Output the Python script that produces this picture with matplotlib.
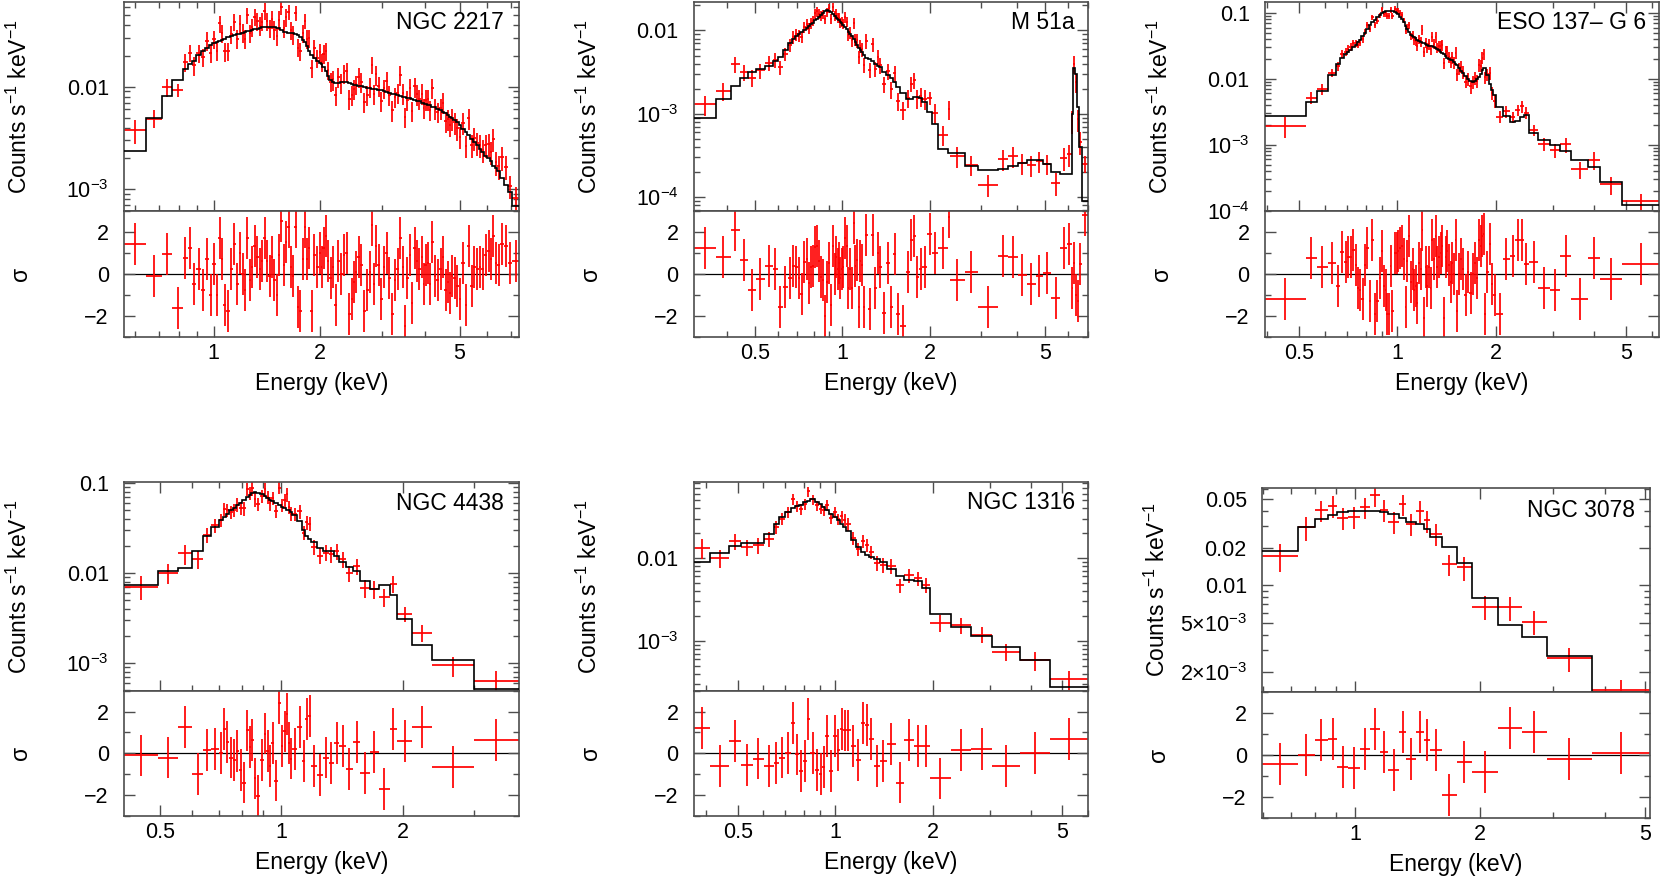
import numpy as np
import matplotlib
matplotlib.use('Agg')
import matplotlib.pyplot as plt
from matplotlib.ticker import FixedLocator, FixedFormatter, LogLocator, NullFormatter, MultipleLocator

plt.rcParams['font.family'] = ['Liberation Sans', 'DejaVu Sans']
plt.rcParams['mathtext.fontset'] = 'custom'
plt.rcParams['mathtext.rm'] = 'Liberation Sans'
plt.rcParams['mathtext.it'] = 'Liberation Sans:italic'
plt.rcParams['mathtext.bf'] = 'Liberation Sans:bold'

# each spectrum: bin edges (keV), model per bin (counts/s/keV),
# residual in sigma, and 1-sigma error as a fraction of the data.
# data = model / (1 - resid * frac)  since resid = (data - model) / (frac * data)

# ---------------- NGC 2217 ----------------
ngc2217_edges = [0.557, 0.644, 0.716, 0.764, 0.820,
    0.845, 0.867, 0.893, 0.922, 0.948, 0.970, 0.993, 1.013, 1.031, 1.049,
    1.065, 1.088, 1.114, 1.133, 1.156, 1.179, 1.200, 1.220, 1.237, 1.258,
    1.280, 1.298, 1.318, 1.343, 1.367, 1.386, 1.407, 1.432, 1.456, 1.478,
    1.501, 1.522, 1.544, 1.571, 1.595, 1.619, 1.648, 1.671, 1.697, 1.727,
    1.751, 1.778, 1.803, 1.825, 1.853, 1.883, 1.916, 1.953, 1.987, 2.015,
    2.039, 2.068, 2.100, 2.132, 2.167, 2.205, 2.245, 2.284, 2.325, 2.366,
    2.410, 2.453, 2.488, 2.523, 2.562, 2.601, 2.653, 2.710, 2.758, 2.797,
    2.830, 2.870, 2.920, 2.972, 3.025, 3.078, 3.133, 3.188, 3.245, 3.302,
    3.361, 3.420, 3.473, 3.526, 3.584, 3.639, 3.695, 3.756, 3.813, 3.872,
    3.927, 3.973, 4.029, 4.091, 4.153, 4.222, 4.297, 4.378, 4.456, 4.529,
    4.599, 4.669, 4.735, 4.802, 4.887, 4.974, 5.061, 5.169, 5.261, 5.354,
    5.462, 5.558, 5.663, 5.763, 5.879, 5.997, 6.089, 6.183, 6.285, 6.396,
    6.532, 6.687, 6.845, 7.048, 7.377]
ngc2217_model = [0.00234, 0.0050, 0.0081, 0.0116,
    0.0149, 0.0165, 0.0178, 0.0205, 0.0225, 0.024, 0.0255, 0.0265, 0.0272, 0.028,
    0.0287, 0.0292, 0.0302, 0.031, 0.0316, 0.0325, 0.033, 0.0337, 0.0342, 0.0347,
    0.0353, 0.0358, 0.0362, 0.0368, 0.0376, 0.038, 0.0382, 0.0384, 0.0384, 0.0383,
    0.038, 0.0375, 0.037, 0.036, 0.0345, 0.034, 0.0335, 0.0333, 0.0333, 0.033,
    0.0318, 0.0305, 0.0285, 0.0275, 0.025, 0.0225, 0.0205, 0.0192, 0.018, 0.0172,
    0.0165, 0.0157, 0.0143, 0.0128, 0.0116, 0.011, 0.0108, 0.0109, 0.011, 0.011,
    0.011, 0.0108, 0.0106, 0.0104, 0.0103, 0.0102, 0.0101, 0.0099, 0.0098, 0.0097,
    0.0096, 0.0095, 0.0094, 0.0093, 0.0092, 0.009, 0.0089, 0.0087, 0.0085, 0.0084,
    0.0083, 0.0081, 0.008, 0.0079, 0.0078, 0.0077, 0.0076, 0.0074, 0.0073, 0.0072,
    0.007, 0.0069, 0.0068, 0.0067, 0.0066, 0.0064, 0.0063, 0.0061, 0.0059, 0.0057,
    0.0055, 0.0053, 0.0051, 0.005, 0.0047, 0.0045, 0.0042, 0.0039, 0.0036, 0.0034,
    0.0031, 0.0029, 0.0027, 0.0025, 0.0023, 0.0021, 0.002, 0.0019, 0.0017, 0.0016,
    0.0015, 0.0013, 0.0011, 0.00094, 0.00069]
ngc2217_resid = [1.4, -0.1, 0.95, -1.65,
    0.75, 1.2, -0.5, 0.2, -0.8, 0.7, -1.0, 0.45, -1.0, 1.7,
    0.7, -1.5, -1.8, 0.2, 1.4, -0.5, 1.0, 0.0, -0.8, 1.7,
    -0.3, 0.3, 1.3, 0.8, 0.2, 0.6, 1.7, 0.6, -0.1, 0.8,
    -0.3, -1.0, 0.9, 2.5, 0.4, 1.5, 2.2, 0.3, -0.1, 2.2,
    -1.6, -1.8, 0.7, 2.2, 0.7, 1.2, -1.8, 0.9, 0.3, 1.0,
    0.3, 1.2, 1.8, 0.6, -0.2, 0.3, -1.5, 0.6, 0.0, 0.9,
    1.0, -1.9, -1.2, -0.4, 0.1, 0.8, 0.4, -1.8, -0.8, 0.1,
    2.3, -0.5, 1.3, 0.4, -1.2, 0.3, 1.0, -0.2, -1.9, -0.3,
    0.2, 1.7, 0.3, -2.5, -0.2, 0.9, -1.4, 1.2, 0.6, 0.2,
    0.8, -0.5, 0.4, 0.5, -0.5, 1.5, -0.1, -0.3, 0.2, 0.8,
    -0.8, -0.4, -0.9, -0.1, -0.2, -0.6, -1.2, 0.5, -1.5, 1.3,
    -0.6, 0.3, 0.2, 0.3, 0.2, 0.9, 1.1, 0.7, 1.8, 0.5,
    0.4, 1.4, 1.3, 0.5, 0.6]
ngc2217_frac = [0.27, 0.2, 0.2, 0.15,
    0.2, 0.19, 0.21, 0.2, 0.2, 0.21, 0.2, 0.2, 0.21, 0.19,
    0.2, 0.21, 0.2, 0.2, 0.19, 0.21, 0.2, 0.2, 0.21, 0.18,
    0.2, 0.2, 0.19, 0.2, 0.21, 0.2, 0.18, 0.2, 0.2, 0.2,
    0.21, 0.2, 0.2, 0.16, 0.2, 0.19, 0.17, 0.2, 0.21, 0.17,
    0.2, 0.2, 0.2, 0.17, 0.21, 0.2, 0.2, 0.21, 0.2, 0.21,
    0.2, 0.21, 0.2, 0.2, 0.21, 0.22, 0.21, 0.22, 0.22, 0.21,
    0.22, 0.22, 0.22, 0.22, 0.21, 0.22, 0.22, 0.22, 0.22, 0.22,
    0.18, 0.22, 0.22, 0.22, 0.22, 0.22, 0.22, 0.22, 0.23, 0.22,
    0.22, 0.22, 0.23, 0.22, 0.22, 0.23, 0.22, 0.22, 0.23, 0.22,
    0.23, 0.22, 0.23, 0.23, 0.22, 0.23, 0.23, 0.23, 0.23, 0.23,
    0.23, 0.24, 0.23, 0.24, 0.24, 0.24, 0.24, 0.24, 0.24, 0.24,
    0.25, 0.25, 0.25, 0.25, 0.25, 0.25, 0.25, 0.25, 0.25, 0.26,
    0.26, 0.26, 0.26, 0.26, 0.27]

# ---------------- M 51a ----------------
m51a_edges = [0.3088, 0.3686, 0.4129, 0.4434, 0.4737, 0.5060, 0.5405, 0.5774, 0.6007, 0.6250,
    0.6502, 0.6694, 0.6892, 0.7020, 0.7170, 0.7342, 0.7479, 0.7599, 0.7741, 0.7864,
    0.7989, 0.8139, 0.8269, 0.8400, 0.8535, 0.8671, 0.8810, 0.8950, 0.9069, 0.9214,
    0.9361, 0.9486, 0.9587, 0.9688, 0.9791, 0.9895, 1.0, 1.016, 1.0295, 1.0432,
    1.0542, 1.0682, 1.0853, 1.1026, 1.1173, 1.1321, 1.1472, 1.1594, 1.1748, 1.1967,
    1.2254, 1.2583, 1.2885, 1.3126, 1.3371, 1.3692, 1.4133, 1.4549, 1.4939, 1.5339,
    1.5833, 1.6515, 1.7047, 1.7503, 1.7876, 1.8355, 1.8846, 1.9555, 2.04, 2.1337,
    2.3097, 2.3528, 2.6356, 2.9292, 3.4322, 3.7151, 4.0214, 4.3184, 4.6257, 4.9023,
    5.2363, 5.6234, 5.9282, 6.1513, 6.234, 6.316, 6.400, 6.503, 6.677, 7.002]
m51a_model = [8.8e-4, 1.52e-3, 2.14e-3, 2.7e-3, 3.2e-3, 3.48e-3, 3.8e-3, 4.3e-3, 4.8e-3, 5.8e-3,
    7.0e-3, 7.9e-3, 8.5e-3, 9.0e-3, 9.6e-3, 0.0102, 0.0107, 0.0113, 0.0118, 0.0124,
    0.0132, 0.0139, 0.0146, 0.0154, 0.0162, 0.0171, 0.0175, 0.0172, 0.0165, 0.0157,
    0.015, 0.0143, 0.0138, 0.0133, 0.0128, 0.0123, 0.0117, 0.011, 0.0103, 0.0097,
    0.0091, 0.0085, 0.0079, 0.0073, 0.0067, 0.0062, 0.0058, 0.0055, 0.0051, 0.0047,
    0.0045, 0.0043, 0.004, 0.0038, 0.0036, 0.0032, 0.0029, 0.0027, 0.0024, 0.0021,
    0.0018, 0.00152, 0.00152, 0.00158, 0.0016, 0.00155, 0.0014, 0.00105, 0.00075, 0.00038,
    0.00034, 0.00034, 0.00024, 0.00021, 0.00022, 0.00024, 0.00026, 0.00028, 0.00028, 0.00025,
    0.0002, 0.00019, 0.00019, 0.001, 0.0035, 0.003, 0.0012, 0.0004, 9e-5]
m51a_resid = [1.2, 0.8, 2.1, 0.65, -0.8, -0.25, 0.35, 0.2, -1.6, -0.65,
    -0.2, 0.35, 0.3, -0.2, -0.95, 0.55, 0.7, -0.45, 0.3, 0.35,
    1.25, 1.3, 0.6, -0.15, -0.3, -2.0, -0.4, 0.5, -1.5, 1.3,
    0.0, 0.8, 0.2, 0.5, -0.2, 0.2, 0.3, 1.7, 1.3, -0.7,
    0.2, -0.7, 2.4, 0.35, 0.65, -1.6, 0.6, 0.4, -1.6, 1.85,
    -1.7, 1.85, -0.7, 1.0, 0.3, -1.85, 0.5, -1.6, 0.95, -1.9,
    -2.5, 0.1, 1.6, 1.8, -0.15, 0.2, 0.3, 1.9, 1.0, 1.2,
    2.7, -0.3, 0.1, -1.6, 0.85, 0.8, -0.05, -0.5, -0.1, 0.05,
    -1.15, 1.2, 1.4, -0.7, 0.5, -1.0, -1.3, 0.45, 2.8]
m51a_frac = [0.27, 0.25, 0.22, 0.22, 0.22, 0.2, 0.2, 0.2, 0.2, 0.18,
    0.18, 0.17, 0.17, 0.16, 0.16, 0.15, 0.15, 0.15, 0.15, 0.14,
    0.14, 0.14, 0.14, 0.13, 0.13, 0.13, 0.13, 0.13, 0.13, 0.13,
    0.13, 0.13, 0.13, 0.13, 0.14, 0.14, 0.14, 0.14, 0.15, 0.15,
    0.16, 0.16, 0.15, 0.17, 0.18, 0.18, 0.19, 0.19, 0.2, 0.2,
    0.2, 0.2, 0.21, 0.21, 0.22, 0.22, 0.22, 0.23, 0.23, 0.24,
    0.24, 0.25, 0.21, 0.21, 0.25, 0.25, 0.26, 0.17, 0.27, 0.27,
    0.26, 0.28, 0.28, 0.3, 0.28, 0.28, 0.28, 0.28, 0.28, 0.28,
    0.3, 0.3, 0.3, 0.3, 0.25, 0.25, 0.3, 0.3, 0.23]

# ---------------- ESO 137-G 6 ----------------
eso137_edges = [0.3946, 0.5251, 0.5673, 0.6129, 0.6484,
    0.6684, 0.6882, 0.7029, 0.7145, 0.7272, 0.7409, 0.7540, 0.7647, 0.7765, 0.7902,
    0.8033, 0.8176, 0.8320, 0.8468, 0.8618, 0.8771, 0.8937, 0.9074, 0.9170, 0.9267,
    0.9376, 0.9487, 0.9598, 0.9745, 0.9895, 1.0012, 1.0142, 1.0285, 1.0418, 1.0541,
    1.0665, 1.0804, 1.0957, 1.1086, 1.1190, 1.1309, 1.1442, 1.1590, 1.1741, 1.1879,
    1.2004, 1.2131, 1.2275, 1.2420, 1.2566, 1.2714, 1.2863, 1.3015, 1.3168, 1.3323,
    1.3481, 1.3640, 1.3800, 1.3963, 1.4127, 1.4294, 1.4462, 1.4632, 1.4805, 1.4979,
    1.5156, 1.5352, 1.5587, 1.5807, 1.6032, 1.6316, 1.6624, 1.6920, 1.7200, 1.7463,
    1.7690, 1.7898, 1.8109, 1.8300, 1.8473, 1.8713, 1.9022, 1.9337, 1.9680, 2.0098,
    2.1062, 2.2071, 2.2969, 2.3679, 2.4353, 2.5284, 2.6934, 2.9236, 3.1511, 3.4044,
    3.8276, 4.1739, 4.8716, 6.3037]
eso137_model = [0.00277, 0.0044, 0.0066, 0.0115, 0.017,
    0.0205, 0.024, 0.0255, 0.0275, 0.030, 0.033, 0.036, 0.039, 0.045, 0.050,
    0.057, 0.065, 0.072, 0.079, 0.086, 0.094, 0.101, 0.104, 0.106, 0.108,
    0.108, 0.108, 0.107, 0.103, 0.099, 0.095, 0.088, 0.081, 0.072, 0.063,
    0.057, 0.051, 0.047, 0.045, 0.043, 0.041, 0.039, 0.037, 0.036, 0.0355,
    0.035, 0.034, 0.033, 0.032, 0.0315, 0.031, 0.030, 0.029, 0.028, 0.027,
    0.026, 0.025, 0.024, 0.0225, 0.021, 0.020, 0.0195, 0.019, 0.0178, 0.017,
    0.016, 0.0145, 0.0132, 0.0122, 0.011, 0.0099, 0.0092, 0.009, 0.0093, 0.0098,
    0.0105, 0.0118, 0.0135, 0.0148, 0.0145, 0.0115, 0.0085, 0.0068, 0.0056,
    0.0037, 0.00277, 0.0022, 0.0023, 0.0026, 0.0028, 0.0015, 0.0012, 0.001, 0.0008,
    0.00058, 0.00046, 0.00027, 0.00012]
eso137_resid = [-1.2, 0.75, 0.3, 0.5, -0.6,
    1.05, 0.55, 0.8, 0.8, 1.15, 0.4, -0.7, -0.8, -1.2, 0.4,
    1.2, -1.3, 1.6, -1.9, -1.3, -0.2, 1.1, -0.6, -0.8, -1.9,
    -1.9, 0.35, -1.8, 1.0, 1.0, 1.1, 1.2, 1.3, 0.7, -1.6,
    0.6, 1.8, -0.4, 0.2, -0.8, -0.6, -1.4, 0.5, 0.2, 2.1,
    -2.1, 0.3, -0.6, 0.3, -0.7, 1.6, 0.7, 1.8, 0.3, 0.8,
    1.0, 1.3, -2.1, 0.8, 1.1, 0.4, -0.4, 0.5, 0.0, 1.6,
    -1.8, 0.0, 0.7, 0.2, -1.0, 0.1, -0.9, 0.0, 0.5, -0.2,
    1.6, 1.3, 1.8, 1.9, -1.9, 0.1, 1.4, -0.5, -1.0,
    -1.9, 0.7, 0.85, 1.6, 1.6, 0.45, 0.55, -0.7, -0.8, 0.85,
    -1.2, 0.75, -0.25, 0.45]
eso137_frac = [0.35, 0.2, 0.2, 0.15, 0.15,
    0.14, 0.13, 0.13, 0.13, 0.12, 0.12, 0.12, 0.12, 0.11, 0.11,
    0.11, 0.11, 0.1, 0.1, 0.1, 0.1, 0.1, 0.1, 0.1, 0.1,
    0.1, 0.1, 0.1, 0.1, 0.1, 0.1, 0.1, 0.1, 0.1, 0.11,
    0.12, 0.12, 0.13, 0.14, 0.15, 0.15, 0.16, 0.16, 0.17, 0.17,
    0.17, 0.18, 0.18, 0.18, 0.18, 0.18, 0.18, 0.18, 0.18, 0.18,
    0.18, 0.18, 0.18, 0.19, 0.19, 0.19, 0.2, 0.2, 0.2, 0.2,
    0.2, 0.2, 0.2, 0.21, 0.21, 0.22, 0.22, 0.22, 0.22, 0.22,
    0.22, 0.2, 0.2, 0.2, 0.2, 0.22, 0.22, 0.22, 0.22,
    0.2, 0.2, 0.2, 0.2, 0.2, 0.2, 0.2, 0.22, 0.25, 0.25,
    0.3, 0.3, 0.3, 0.3]

# ---------------- NGC 4438 ----------------
ngc4438_edges = [0.4080, 0.4951, 0.5561, 0.5996, 0.6413, 0.6707, 0.6987, 0.7174, 0.7277, 0.7396,
    0.7580, 0.7704, 0.7863, 0.7993, 0.8156, 0.8290, 0.8393, 0.8531, 0.8671, 0.8849,
    0.9031, 0.9161, 0.9312, 0.9445, 0.9600, 0.9798, 0.9959, 1.0102, 1.0248, 1.0352,
    1.0501, 1.0630, 1.0938, 1.1231, 1.1463, 1.1651, 1.1819, 1.2260, 1.2692, 1.3086,
    1.3492, 1.3911, 1.4431, 1.5031, 1.5656, 1.6542, 1.7408, 1.8504, 1.9354, 2.0995,
    2.3630, 2.9868, 3.8692]
ngc4438_model = [0.0073, 0.0106, 0.0114, 0.0176, 0.026, 0.033, 0.039, 0.042, 0.046, 0.05,
    0.053, 0.057, 0.06, 0.065, 0.07, 0.074, 0.078, 0.08, 0.079, 0.076,
    0.072, 0.069, 0.066, 0.063, 0.06, 0.057, 0.054, 0.053, 0.051, 0.05,
    0.048, 0.044, 0.038, 0.03, 0.026, 0.024, 0.022, 0.019, 0.0176, 0.0176,
    0.0157, 0.0132, 0.0116, 0.0106, 0.0082, 0.0066, 0.0074, 0.0057, 0.0031, 0.00157,
    0.00109, 0.000516]
ngc4438_resid = [-0.1, -0.2, 1.25, -1.0, 0.15, 0.2, 0.0, 1.15, 0.55, -0.2,
    -0.3, 0.1, -0.8, -1.4, 1.1, 0.3, 0.65, -1.2, -2.05, -0.3,
    0.95, 0.1, -0.6, 0.5, -1.3, 2.4, 0.35, 1.05, 1.9, 0.5,
    -0.25, 0.2, 1.25, -0.35, 1.65, 1.8, -0.6, -1.05, -0.2, -0.45,
    0.5, 0.35, -0.75, 0.55, -0.95, 0.05, -1.7, 1.15, 0.6, 1.25,
    -0.65, 0.65]
ngc4438_frac = [0.3, 0.25, 0.25, 0.22, 0.2, 0.18, 0.17, 0.17, 0.17, 0.17,
    0.17, 0.17, 0.17, 0.17, 0.17, 0.17, 0.17, 0.17, 0.17, 0.17,
    0.17, 0.17, 0.17, 0.17, 0.17, 0.15, 0.17, 0.17, 0.17, 0.17,
    0.17, 0.17, 0.18, 0.18, 0.18, 0.18, 0.19, 0.2, 0.2, 0.2,
    0.2, 0.2, 0.21, 0.21, 0.22, 0.22, 0.22, 0.22, 0.2, 0.22,
    0.25, 0.28]

# ---------------- NGC 1316 ----------------
ngc1316_edges = [0.3666, 0.4117, 0.4700, 0.5131, 0.5574, 0.6012, 0.6455, 0.6704, 0.6996, 0.7300,
    0.7510, 0.7745, 0.7949, 0.8159, 0.8374, 0.8676, 0.8926, 0.9097, 0.9315, 0.9560,
    0.9836, 1.0095, 1.0337, 1.0584, 1.0812, 1.1150, 1.1553, 1.1971, 1.2344, 1.2730,
    1.3127, 1.3699, 1.4431, 1.5347, 1.6282, 1.7439, 1.8503, 1.9537, 2.2785, 2.6262,
    3.0483, 3.7188, 4.5803, 6.0121]
ngc1316_model = [0.0089, 0.0115, 0.0138, 0.0152, 0.0152, 0.0193, 0.026, 0.031, 0.036, 0.040,
    0.043, 0.044, 0.047, 0.049, 0.051, 0.048, 0.045, 0.041, 0.038, 0.034,
    0.031, 0.029, 0.026, 0.024, 0.021, 0.0165, 0.0135, 0.012, 0.011, 0.0104,
    0.0098, 0.0089, 0.0074, 0.006, 0.0054, 0.0053, 0.0044, 0.0021, 0.00149, 0.00114,
    0.00085, 0.00058, 0.00028]
ngc1316_resid = [1.2, -0.6, 0.6, -0.55, -0.25, -0.6, -0.45, -0.2, 0.0, 1.45,
    -0.05, -0.85, -0.35, 1.65, 0.0, -0.8, -1.0, -0.65, 0.85, -0.85,
    0.85, 0.15, 1.15, 1.1, 1.1, 0.35, -0.3, 1.45, 1.35, 0.7,
    -0.6, -0.35, 0.45, -1.4, 0.65, 0.35, 0.35, -1.2, 0.15, 0.2,
    -0.6, 0.0, 0.7]
ngc1316_frac = [0.28, 0.25, 0.22, 0.22, 0.22, 0.2, 0.18, 0.17, 0.16, 0.15,
    0.15, 0.15, 0.15, 0.14, 0.14, 0.14, 0.14, 0.14, 0.15, 0.15,
    0.15, 0.15, 0.16, 0.16, 0.17, 0.17, 0.18, 0.18, 0.18, 0.18,
    0.2, 0.2, 0.2, 0.2, 0.2, 0.2, 0.2, 0.22, 0.22, 0.22,
    0.24, 0.26, 0.26]

# ---------------- NGC 3078 ----------------
ngc3078_edges = [0.5962, 0.7283, 0.7991, 0.8606, 0.9047, 0.9618, 1.0263, 1.0850, 1.1513, 1.2014,
    1.2772, 1.3304, 1.4065, 1.4651, 1.5148, 1.6164, 1.7635, 1.9098, 2.2152, 2.5221,
    2.9090, 3.7225, 5.1497]
ngc3078_model = [0.019, 0.0292, 0.0345, 0.037, 0.0386, 0.0395, 0.0398, 0.0398, 0.0391, 0.0372,
    0.035, 0.0324, 0.0309, 0.0286, 0.0245, 0.0203, 0.015, 0.0079, 0.00475, 0.00386,
    0.00269, 0.00139]
ngc3078_resid = [-0.45, 0.0, 0.7, 0.75, -0.55, -0.6, 0.3, 1.25, 0.15, -0.7,
    1.1, -0.2, 1.1, 0.7, 0.25, -1.9, -0.35, -0.8, 1.3, 1.1,
    -0.2, 0.1]
ngc3078_frac = [0.25, 0.22, 0.2, 0.2, 0.2, 0.2, 0.2, 0.2, 0.2, 0.2,
    0.2, 0.2, 0.2, 0.2, 0.2, 0.2, 0.22, 0.22, 0.22, 0.22,
    0.22, 0.22]

names = ['NGC 2217', 'M 51a', 'ESO 137\u2013 G 6', 'NGC 4438', 'NGC 1316', 'NGC 3078']
xlims = [(0.557, 7.377), (0.3088, 7.002), (0.3946, 6.3037),
         (0.408, 3.8692), (0.3666, 6.0121), (0.5962, 5.1497)]
ylims = [(6.2e-4, 0.067), (6.9e-5, 0.022), (1e-4, 0.147),
         (4.9e-4, 0.1035), (2.5e-4, 0.083), (1.38e-3, 0.0607)]
xticks = [[1, 2, 5], [0.5, 1, 2, 5], [0.5, 1, 2, 5], [0.5, 1, 2], [0.5, 1, 2, 5], [1, 2, 5]]
xticklabels = [['1', '2', '5'], ['0.5', '1', '2', '5'], ['0.5', '1', '2', '5'],
               ['0.5', '1', '2'], ['0.5', '1', '2', '5'], ['1', '2', '5']]
yticks = [[0.01, 1e-3], [0.01, 1e-3, 1e-4], [0.1, 0.01, 1e-3, 1e-4],
          [0.1, 0.01, 1e-3], [0.01, 1e-3], [0.05, 0.02, 0.01, 5e-3, 2e-3]]
yticklabels = [['0.01', '10$^{-3}$'], ['0.01', '10$^{-3}$', '10$^{-4}$'],
               ['0.1', '0.01', '10$^{-3}$', '10$^{-4}$'], ['0.1', '0.01', '10$^{-3}$'],
               ['0.01', '10$^{-3}$'],
               ['0.05', '0.02', '0.01', '5\u00d710$^{-3}$', '2\u00d710$^{-3}$']]

spectra = [
    (ngc2217_edges, ngc2217_model, ngc2217_resid, ngc2217_frac),
    (m51a_edges, m51a_model, m51a_resid, m51a_frac),
    (eso137_edges, eso137_model, eso137_resid, eso137_frac),
    (ngc4438_edges, ngc4438_model, ngc4438_resid, ngc4438_frac),
    (ngc1316_edges, ngc1316_model, ngc1316_resid, ngc1316_frac),
    (ngc3078_edges, ngc3078_model, ngc3078_resid, ngc3078_frac),
]

# layout in figure fractions: [left, width, spec_bottom, spec_h, res_bottom, res_h]
layout = [
    [0.0747, 0.2378, 0.7606, 0.2372, 0.6174, 0.1432],
    [0.4178, 0.2372, 0.7606, 0.2372, 0.6174, 0.1432],
    [0.7616, 0.2372, 0.7606, 0.2372, 0.6174, 0.1432],
    [0.0747, 0.2378, 0.2151, 0.2372, 0.0727, 0.1424],
    [0.4178, 0.2372, 0.2151, 0.2372, 0.0727, 0.1424],
    [0.7598, 0.2336, 0.2136, 0.2318, 0.0705, 0.1432],
]
name_pos = [(0.962, 0.9), (0.967, 0.9), (0.967, 0.9), (0.962, 0.895), (0.967, 0.904), (0.961, 0.892)]

W, H = 1661, 880
fig = plt.figure(figsize=(W / 100, H / 100), dpi=100)

frame_col = '0.3'
red = '#ff0000'


def style(ax):
    for s in ax.spines.values():
        s.set_color(frame_col)
        s.set_linewidth(1.2)
    ax.tick_params(which='both', direction='in', colors=frame_col, labelcolor='black',
                   labelsize=15.5, width=1.0)
    ax.tick_params(which='major', length=8)
    ax.tick_params(which='minor', length=4.5)
    ax.tick_params(axis='x', pad=4.5)
    ax.tick_params(axis='y', pad=11)


for i in range(6):
    edges, model, resid, frac = [np.asarray(a, dtype=float) for a in spectra[i]]
    left, width, sb, sh, rb, rh = layout[i]
    lo, hi = edges[:-1], edges[1:]
    cen = np.sqrt(lo * hi)
    flux = model / (1 - resid * frac)
    err = frac * flux
    xerr = [cen - lo, hi - cen]

    ax = fig.add_axes([left, sb, width, sh])
    axr = fig.add_axes([left, rb, width, rh])

    ax.errorbar(cen, flux, xerr=xerr, yerr=err, fmt='none', ecolor=red,
                elinewidth=1.25, capsize=0, zorder=2)
    ax.stairs(model, edges, baseline=None, color='black', lw=1.2, zorder=3)

    axr.errorbar(cen, resid, xerr=xerr, yerr=np.ones_like(resid), fmt='none',
                 ecolor=red, elinewidth=1.25, capsize=0, zorder=2)
    axr.axhline(0, color='black', lw=0.9, zorder=1)

    for a in (ax, axr):
        a.set_xscale('log')
        a.set_xlim(*xlims[i])
        a.xaxis.set_major_locator(FixedLocator(xticks[i]))
        a.xaxis.set_minor_locator(LogLocator(base=10, subs=np.arange(2, 10)))
        a.xaxis.set_minor_formatter(NullFormatter())
        style(a)

    ax.set_yscale('log')
    ax.set_ylim(*ylims[i])
    ax.yaxis.set_major_locator(FixedLocator(yticks[i]))
    ax.yaxis.set_major_formatter(FixedFormatter(yticklabels[i]))
    ax.yaxis.set_minor_locator(LogLocator(base=10, subs=np.arange(1, 10)))
    ax.yaxis.set_minor_formatter(NullFormatter())
    ax.xaxis.set_major_formatter(NullFormatter())
    ax.tick_params(which='both', top=True, right=True, bottom=True)

    axr.set_ylim(-3, 3)
    axr.yaxis.set_major_locator(FixedLocator([-2, 0, 2]))
    axr.yaxis.set_minor_locator(MultipleLocator(1))
    axr.xaxis.set_major_formatter(FixedFormatter(xticklabels[i]))
    axr.tick_params(which='both', top=False, right=True)

    wpx = width * W
    ax.set_ylabel('Counts s$^{-1}$ keV$^{-1}$', fontsize=16.5)
    ax.yaxis.set_label_coords(-92 / wpx, 0.5)
    axr.set_ylabel('\u03c3', fontsize=16.5)
    axr.yaxis.set_label_coords(-92 / wpx, 0.5)
    axr.set_xlabel('Energy (keV)', fontsize=16.5)
    axr.xaxis.set_label_coords(0.5, -35 / (rh * H))

    ax.text(name_pos[i][0], name_pos[i][1], names[i], transform=ax.transAxes,
            ha='right', va='center', fontsize=16.5)

fig.savefig('out.png', dpi=100)
